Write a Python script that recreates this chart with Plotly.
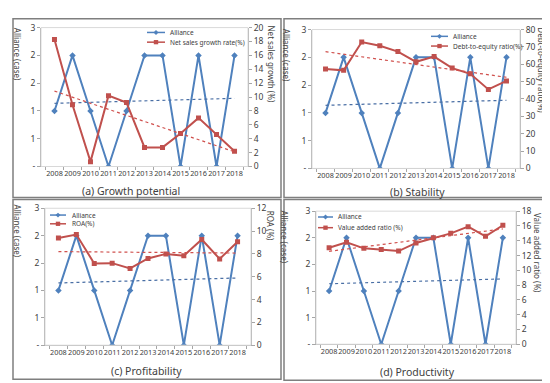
import numpy as np
import plotly.graph_objects as go

years = ["2008", "2009", "2010", "2011", "2012", "2013", "2014", "2015", "2016", "2017", "2018"]
alliance = [1, 2, 1, 0, 1, 2, 2, 0, 2, 0, 2]
net_sales_growth = [18.3, 8.9, 0.7, 10.2, 9.2, 2.75, 2.75, 4.75, 7.0, 4.6, 2.2]
debt_to_equity = [57.3, 56.5, 72.8, 70.7, 67.3, 61.4, 64.4, 57.8, 54.5, 45.5, 50.4]
roa = [9.4, 9.7, 7.16, 7.19, 6.73, 7.6, 8.0, 7.84, 9.26, 7.56, 9.06]
value_added = [13.06, 13.8, 12.97, 12.8, 12.6, 13.7, 14.4, 15.0, 15.9, 14.6, 16.1]

left_tickvals = [0, 0.5, 1, 1.5, 2, 2.5]
left_ticktext = ["-", "1", "1", "2", "2", "3"]

W, H = 550, 383
BLUE = "#4F81BD"
RED = "#C0504D"
TXT = "#404040"
FONT = "Noto Sans"

panels = [
    dict(name="Net sales growth rate(%)", vals=net_sales_growth, rmax=20, rstep=2,
         rtitle="Net sales growth (%)", caption="(a) Growth potential",
         box=(33, 240, 14, 157), frame=(5, 273, 5, 189),
         lt=(9, 41), rt=(263, 51), cap=(123, 182), leg=(139, 157, 160, 19, 29)),
    dict(name="Debt-to-equity ratio(%)", vals=debt_to_equity, rmax=80, rstep=10,
         rtitle="Debt-to-equity ratio(%)", caption="(b) Stability",
         box=(304, 512, 16, 159), frame=(276, 544, 5, 189),
         lt=(278, 42), rt=(534, 58), cap=(409, 183), leg=(423, 440, 443, 23, 33)),
    dict(name="ROA(%)", vals=roa, rmax=12, rstep=2,
         rtitle="ROA (%)", caption="(c) Profitability",
         box=(37, 243, 200, 341), frame=(5, 273, 191, 376),
         lt=(9, 223), rt=(262, 218), cap=(138, 368), leg=(42, 58, 62, 207, 216)),
    dict(name="Value added ratio (%)", vals=value_added, rmax=18, rstep=2,
         rtitle="Value added ratio (%)", caption="(d) Productivity",
         box=(308, 508, 203, 340), frame=(276, 544, 191, 377),
         lt=(277, 229), rt=(529, 246), cap=(409, 369), leg=(310, 325, 328, 209, 220)),
]

def px(x):
    return x / W

def py(y):
    return 1 - y / H

fig = go.Figure()
xi = np.arange(len(years))
shapes = []
annotations = []
layout = {}

def legend_entry(lx0, lx1, tx, y, color, symbol, label):
    shapes.append(dict(type="line", xref="paper", yref="paper", x0=px(lx0), x1=px(lx1),
                       y0=py(y), y1=py(y), line=dict(color=color, width=1.5)))
    cx = (lx0 + lx1) / 2
    if symbol == "square":
        shapes.append(dict(type="rect", xref="paper", yref="paper", x0=px(cx - 2.2), x1=px(cx + 2.2),
                           y0=py(y + 2.2), y1=py(y - 2.2), fillcolor=color, line=dict(width=0)))
    else:
        path = (f"M {px(cx - 2.5)},{py(y)} L {px(cx)},{py(y - 2.5)} "
                f"L {px(cx + 2.5)},{py(y)} L {px(cx)},{py(y + 2.5)} Z")
        shapes.append(dict(type="path", xref="paper", yref="paper", path=path,
                           fillcolor=color, line=dict(width=0)))
    annotations.append(dict(text=label, xref="paper", yref="paper", x=px(tx), y=py(y),
                            xanchor="left", yanchor="middle", showarrow=False,
                            font=dict(size=6.5, color=TXT, family=FONT)))

for i, p in enumerate(panels):
    k = i + 1
    xa = "x" if k == 1 else f"x{k}"
    ya_l = f"y{2*k-1}" if k > 1 else "y"
    ya_r = f"y{2*k}"
    x0, x1, y0, y1 = p["box"]

    fig.add_trace(go.Scatter(x=years, y=alliance, xaxis=xa, yaxis=ya_l, name="Alliance",
                             mode="lines+markers", line=dict(color=BLUE, width=2),
                             marker=dict(symbol="diamond", size=5, color=BLUE),
                             showlegend=False))
    fig.add_trace(go.Scatter(x=years, y=p["vals"], xaxis=xa, yaxis=ya_r, name=p["name"],
                             mode="lines+markers", line=dict(color=RED, width=2),
                             marker=dict(symbol="square", size=5, color=RED),
                             showlegend=False))
    a1, b1 = np.polyfit(xi, alliance, 1)
    fig.add_trace(go.Scatter(x=years, y=a1 * xi + b1, xaxis=xa, yaxis=ya_l, mode="lines",
                             line=dict(color="#4A6FA5", width=1.2, dash="dot"),
                             showlegend=False, hoverinfo="skip"))
    a2, b2 = np.polyfit(xi, p["vals"], 1)
    fig.add_trace(go.Scatter(x=years, y=a2 * xi + b2, xaxis=xa, yaxis=ya_r, mode="lines",
                             line=dict(color="#D0504D", width=1.2, dash="dot"),
                             showlegend=False, hoverinfo="skip"))

    xkey = "xaxis" if k == 1 else f"xaxis{k}"
    ylkey = "yaxis" if k == 1 else f"yaxis{2*k-1}"
    yrkey = f"yaxis{2*k}"
    layout[xkey] = dict(domain=[px(x0), px(x1)], anchor=ya_l, type="category",
                        tickson="boundaries", ticks="outside", ticklen=3,
                        tickcolor="#A6A6A6", showline=True, linecolor="#A6A6A6",
                        tickangle=0, tickfont=dict(size=7.3, color=TXT, family=FONT),
                        showgrid=False, zeroline=False)
    layout[ylkey] = dict(domain=[py(y1), py(y0)], anchor=xa, range=[0, 2.5],
                         tickvals=left_tickvals, ticktext=left_ticktext,
                         ticks="outside", ticklen=3, tickcolor="#A6A6A6",
                         showline=True, linecolor="#A6A6A6", showgrid=False, zeroline=False,
                         tickfont=dict(size=8.5, color=TXT, family=FONT))
    layout[yrkey] = dict(overlaying=ya_l, anchor=xa, side="right",
                         range=[0, p["rmax"]], dtick=p["rstep"], tick0=0,
                         ticks="outside", ticklen=3, tickcolor="#A6A6A6",
                         showline=True, linecolor="#A6A6A6", showgrid=False, zeroline=False,
                         tickfont=dict(size=8.5, color=TXT, family=FONT))

    shapes.append(dict(type="rect", xref="paper", yref="paper", x0=px(x0), x1=px(x1),
                       y0=py(y1), y1=py(y0), line=dict(color="#D9D9D9", width=1)))
    fx0, fx1, fy0, fy1 = p["frame"]
    shapes.append(dict(type="rect", xref="paper", yref="paper", x0=px(fx0), x1=px(fx1),
                       y0=py(fy1), y1=py(fy0), line=dict(color="#7F7F7F", width=1.5)))
    annotations.append(dict(text="Alliance (case)", textangle=90, xref="paper", yref="paper",
                            x=px(p["lt"][0]), y=py(p["lt"][1]), xanchor="center", yanchor="middle",
                            showarrow=False, font=dict(size=8, color=TXT, family=FONT)))
    annotations.append(dict(text=p["rtitle"], textangle=90, xref="paper", yref="paper",
                            x=px(p["rt"][0]), y=py(p["rt"][1]), xanchor="center", yanchor="middle",
                            showarrow=False, font=dict(size=8, color=TXT, family=FONT)))
    annotations.append(dict(text=p["caption"], xref="paper", yref="paper",
                            x=px(p["cap"][0]), y=py(p["cap"][1]), xanchor="center", yanchor="middle",
                            showarrow=False, font=dict(size=10.5, color=TXT, family=FONT)))
    lx0, lx1, tx, ly1, ly2 = p["leg"]
    legend_entry(lx0, lx1, tx, ly1, BLUE, "diamond", "Alliance")
    legend_entry(lx0, lx1, tx, ly2, RED, "square", p["name"])

fig.update_layout(**layout)
fig.update_layout(width=W, height=H, margin=dict(l=0, r=0, t=0, b=0),
                  paper_bgcolor="white", plot_bgcolor="white", showlegend=False,
                  shapes=shapes, annotations=annotations, font=dict(family=FONT))
fig.write_html("out.html")
